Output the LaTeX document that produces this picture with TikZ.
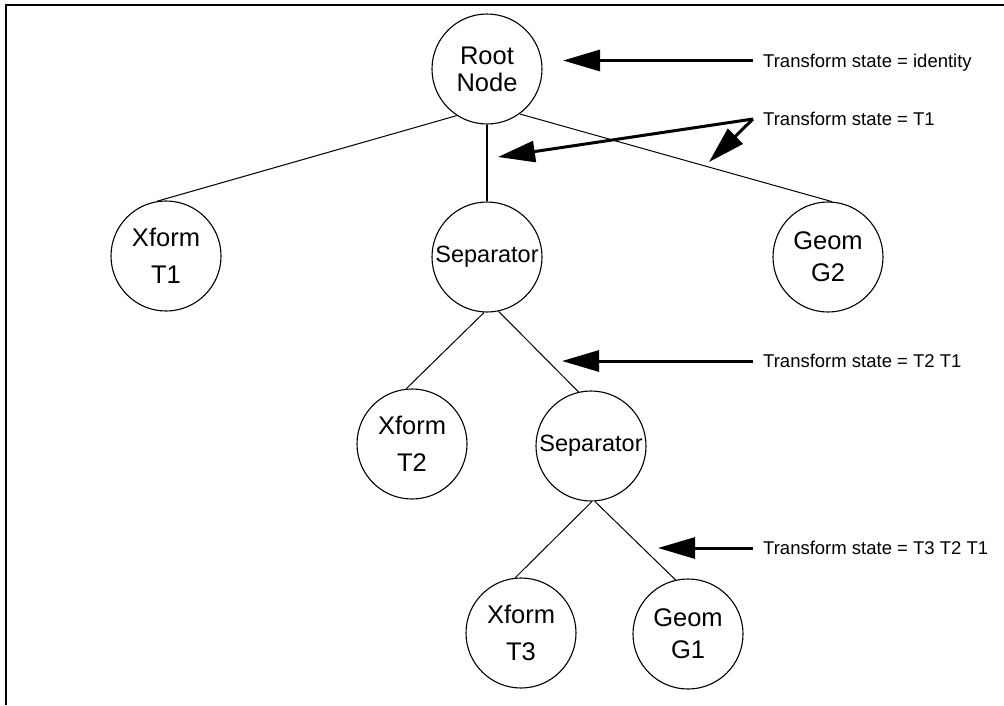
\documentclass[tikz,border=0pt]{standalone}
\usepackage{fontspec}
\setmainfont{Liberation Sans}
\usetikzlibrary{arrows.meta}

\begin{document}
\begin{tikzpicture}[x=1pt,y=-1pt,
  base/.style={circle,draw,line width=1.1pt,minimum size=110pt,inner sep=0pt,align=center},
  rootnode/.style={base,font=\fontsize{25.5}{27}\selectfont},
  xnode/.style={base,font=\fontsize{25.5}{36.7}\selectfont},
  gnode/.style={base,font=\fontsize{25.5}{32}\selectfont},
  sepnode/.style={base,font=\fontsize{23.5}{26}\selectfont},
  edge/.style={line width=1pt},
  lab/.style={anchor=west,inner xsep=10pt,inner ysep=0pt,text height=13.2pt,text depth=0pt,
              font=\fontsize{18.5}{22}\selectfont},
  arr/.style={line width=3pt,-{Triangle[length=37pt,width=21pt]}}
]
\useasboundingbox (0,0) rectangle (1004,705);

% page frame (left and top rules)
\draw[line width=2pt] (6,705) -- (6,5) -- (1004,5);

% scene graph nodes
\node[rootnode] (root) at (487,69)  {Root\\Node};
\node[xnode]    (t1)   at (166,256) {Xform\\T1};
\node[sepnode]  (sep1) at (487,257) {Separator};
\node[gnode]    (g2)   at (828,257) {Geom\\G2};
\node[xnode]    (t2)   at (412,444) {Xform\\T2};
\node[sepnode]  (sep2) at (591,446) {Separator};
\node[xnode]    (t3)   at (521,633) {Xform\\T3};
\node[gnode]    (g1)   at (688,634) {Geom\\G1};

% tree edges
\draw[edge] (root.237) -- (t1.99);
\draw[line width=2pt] (root.south) -- (sep1.north);
\draw[edge] (root.-54) -- (g2.86);
\draw[edge] (sep1.-93) -- (t2.96);
\draw[edge] (sep1.-78) -- (sep2.103);
\draw[edge] (sep2.-89) -- (t3.96);
\draw[edge] (sep2.-86) -- (g1.103);

% transform state annotations
\node[lab] (l1) at (753,60.5) {Transform state = identity};
\node[lab] (l2) at (753,119)  {Transform state = T1};
\node[lab] (l3) at (753,361)  {Transform state = T2 T1};
\node[lab] (l4) at (753,548)  {Transform state = T3 T2 T1};

\coordinate (p1)  at (563,60.5);
\coordinate (p2a) at (498,157);
\coordinate (p2b) at (709,162);
\coordinate (p3)  at (562,361);
\coordinate (p4)  at (658,548);

\draw[arr] (l1.west) -- (p1);
\draw[arr] (l2.west) -- (p2a);
\draw[arr] (l2.west) -- (p2b);
\draw[arr] (l3.west) -- (p3);
\draw[arr] (l4.west) -- (p4);
\end{tikzpicture}
\end{document}
